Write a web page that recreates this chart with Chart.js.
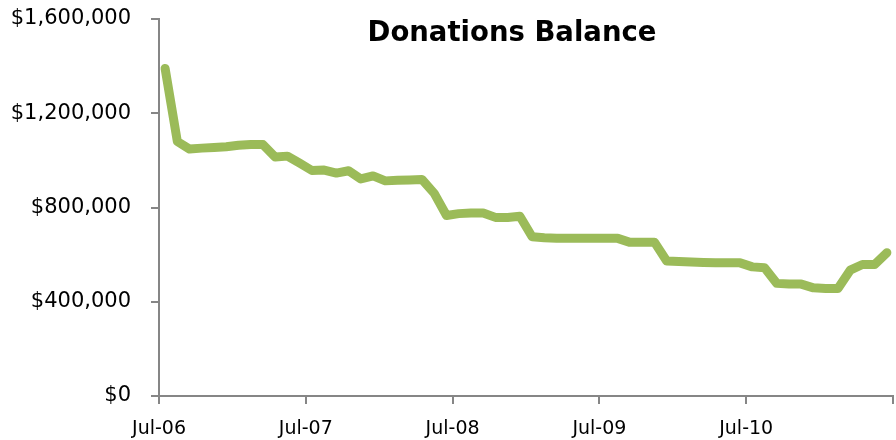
<!DOCTYPE html>
<html>
<head>
<meta charset="utf-8">
<script src="https://cdn.jsdelivr.net/npm/chart.js@4/dist/chart.umd.min.js"></script>
<style>
  html, body { margin: 0; padding: 0; background: #ffffff; }
  #wrap { width: 896px; height: 440px; }
</style>
</head>
<body>
<div id="wrap"><canvas id="c" width="896" height="440"></canvas></div>
<script>
const chartTitle = 'Donations Balance';
const months = [
  'Jul-06','Aug-06','Sep-06','Oct-06','Nov-06','Dec-06','Jan-07','Feb-07','Mar-07','Apr-07','May-07','Jun-07',
  'Jul-07','Aug-07','Sep-07','Oct-07','Nov-07','Dec-07','Jan-08','Feb-08','Mar-08','Apr-08','May-08','Jun-08',
  'Jul-08','Aug-08','Sep-08','Oct-08','Nov-08','Dec-08','Jan-09','Feb-09','Mar-09','Apr-09','May-09','Jun-09',
  'Jul-09','Aug-09','Sep-09','Oct-09','Nov-09','Dec-09','Jan-10','Feb-10','Mar-10','Apr-10','May-10','Jun-10',
  'Jul-10','Aug-10','Sep-10','Oct-10','Nov-10','Dec-10','Jan-11','Feb-11','Mar-11','Apr-11','May-11','Jun-11'
];
const balance = [
  1390000,1080000,1048000,1052000,1055000,1058000,1064000,1067000,1067000,1014000,1018000,988000,
  957000,959000,946000,956000,921000,934000,913000,916000,917000,919000,860000,766000,
  774000,777000,777000,758000,758000,763000,676000,672000,670000,669000,669000,669000,
  669000,669000,652000,653000,653000,573000,571000,569000,567000,566000,566000,565000,
  548000,544000,478000,475000,475000,459000,456000,456000,534000,558000,558000,608000
];
const xTickLabels = ['Jul-06','Jul-07','Jul-08','Jul-09','Jul-10',''];
const yTicks = [0, 400000, 800000, 1200000, 1600000];

const monthsPerTick = 12;
const points = balance.map((v, i) => ({ x: i + 0.5, y: v }));
const axisColor = '#868686';

const titlePlugin = {
  id: 'floatTitle',
  afterDraw(chart) {
    const ctx = chart.ctx;
    ctx.save();
    ctx.font = 'bold 27.5px "DejaVu Sans"';
    ctx.fillStyle = '#000000';
    ctx.textAlign = 'center';
    ctx.textBaseline = 'alphabetic';
    ctx.fillText(chartTitle, 512, 41);
    ctx.restore();
  }
};

new Chart(document.getElementById('c'), {
  type: 'line',
  data: {
    datasets: [{
      label: chartTitle,
      data: points,
      borderColor: '#9BBB59',
      backgroundColor: '#9BBB59',
      borderWidth: 9,
      borderCapStyle: 'round',
      borderJoinStyle: 'round',
      pointRadius: 0,
      tension: 0,
      fill: false,
      clip: false
    }]
  },
  options: {
    responsive: false,
    animation: false,
    layout: { autoPadding: false, padding: { top: 19, right: 3, left: 0, bottom: 0 } },
    plugins: {
      legend: { display: false },
      title: { display: false },
      tooltip: { enabled: false }
    },
    scales: {
      x: {
        type: 'linear',
        min: 0,
        max: months.length,
        afterFit(s) { s.height = 44; s.paddingLeft = 0; s.paddingRight = 0; },
        afterBuildTicks(s) {
          s.ticks = xTickLabels.map((_, i) => ({ value: i * monthsPerTick }));
        },
        ticks: {
          autoSkip: false,
          maxRotation: 0,
          padding: 14,
          color: '#000000',
          font: { family: '"DejaVu Sans"', size: 19 },
          callback(value) { return xTickLabels[Math.round(value / monthsPerTick)]; }
        },
        grid: { drawOnChartArea: false, drawTicks: true, tickLength: 8, color: axisColor, lineWidth: 2 },
        border: { display: true, color: axisColor, width: 2 }
      },
      y: {
        min: 0,
        max: 1600000,
        afterFit(s) { s.width = 159; s.paddingTop = 0; s.paddingBottom = 0; },
        afterBuildTicks(s) {
          s.ticks = yTicks.map(v => ({ value: v }));
        },
        ticks: {
          padding: 20,
          color: '#000000',
          font: { family: '"DejaVu Sans"', size: 21 },
          callback(value) { return '$' + Number(value).toLocaleString('en-US'); }
        },
        grid: { drawOnChartArea: false, drawTicks: true, tickLength: 8, color: axisColor, lineWidth: 2 },
        border: { display: true, color: axisColor, width: 2 }
      }
    }
  },
  plugins: [titlePlugin]
});
</script>
</body>
</html>
